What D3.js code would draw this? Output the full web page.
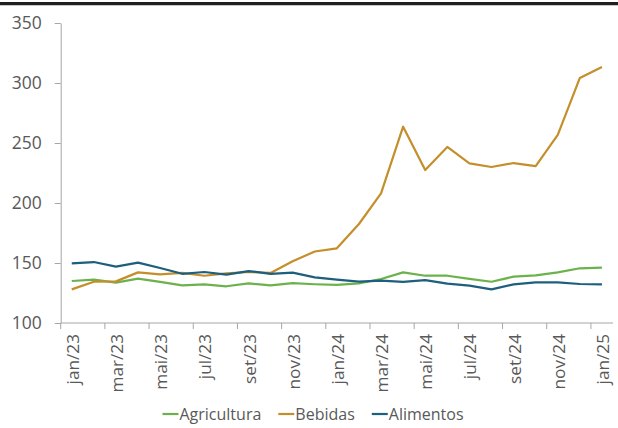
<!DOCTYPE html>
<html>
<head>
<meta charset="utf-8">
<script src="https://cdn.jsdelivr.net/npm/d3@7"></script>
<style>
	body { margin: 0; background: white; }
	svg text { font-family: 'Open Sans', sans-serif; fill: #595959; }
</style>
</head>
<body>
<div id="chart"></div>
<script>
const months = [
	'jan/23', 'fev/23', 'mar/23', 'abr/23', 'mai/23', 'jun/23', 'jul/23', 'ago/23', 'set/23', 'out/23', 'nov/23', 'dez/23',
	'jan/24', 'fev/24', 'mar/24', 'abr/24', 'mai/24', 'jun/24', 'jul/24', 'ago/24', 'set/24', 'out/24', 'nov/24', 'dez/24',
	'jan/25'
];
const agricultura = [135, 136.1, 133.6, 137, 134.2, 131.4, 132.2, 130.6, 133, 131.4, 133.3, 132.3,
	131.7, 133, 136.7, 142.2, 139.4, 139.4, 136.7, 134.4, 138.6, 139.7, 142.2, 145.6, 146.1];
const bebidas = [128, 134.4, 134.7, 142.2, 140.6, 141.7, 139.4, 141.4, 142.5, 141.7, 151.4, 159.6,
	162.2, 182.5, 208, 263.6, 227.5, 246.7, 233, 230, 233.3, 230.8, 256.7, 304.2, 313.3];
const alimentos = [149.7, 150.8, 147, 150.3, 145.8, 141, 142.5, 140.3, 143.3, 141, 142, 138,
	136.1, 134.4, 135.3, 134.2, 135.8, 132.8, 131.1, 128, 132.2, 133.9, 133.9, 132.5, 132.2];
const yTicks = [100, 150, 200, 250, 300, 350];

const series = [
	{ name: 'Agricultura', values: agricultura, color: '#6cb24c' },
	{ name: 'Bebidas', values: bebidas, color: '#c48f2b' },
	{ name: 'Alimentos', values: alimentos, color: '#1d5f7c' }
];

const width = 618, height = 428;
const margin = { top: 23, right: 5, bottom: 105, left: 60.7 };

const svg = d3.select('#chart').append('svg')
	.attr('width', width)
	.attr('height', height);

// thick rule across the top
svg.append('line')
	.attr('x1', 0).attr('x2', width)
	.attr('y1', 3.7).attr('y2', 3.7)
	.attr('stroke', '#1f1f1f')
	.attr('stroke-width', 3.2);

const x = d3.scaleBand()
	.domain(months)
	.range([margin.left, width - margin.right])
	.padding(0);

const y = d3.scaleLinear()
	.domain([100, 350])
	.range([height - margin.bottom, margin.top]);

// y axis
const yAxis = svg.append('g')
	.attr('transform', `translate(${margin.left},0)`)
	.call(d3.axisLeft(y).tickValues(yTicks).tickSize(6).tickPadding(13).tickSizeOuter(0));
yAxis.select('.domain').attr('stroke', '#a6a6a6');
yAxis.selectAll('.tick line').attr('stroke', '#a6a6a6');
yAxis.selectAll('.tick text')
	.style('font-size', '17.5px')
	.attr('fill', '#595959');

// x axis: line and tick marks on every second month boundary
const xAxis = svg.append('g')
	.attr('transform', `translate(0,${height - margin.bottom})`);
xAxis.append('line')
	.attr('x1', x.range()[0]).attr('x2', x.range()[1])
	.attr('stroke', '#a6a6a6');
const labelled = months.filter((d, i) => i % 2 === 0);
xAxis.selectAll('.tickmark')
	.data(labelled)
	.enter()
	.append('line')
	.attr('class', 'tickmark')
	.attr('x1', (d) => x(d)).attr('x2', (d) => x(d))
	.attr('y1', 0).attr('y2', 6)
	.attr('stroke', '#a6a6a6');
xAxis.selectAll('.label')
	.data(labelled)
	.enter()
	.append('text')
	.attr('class', 'label')
	.attr('transform', (d) => `translate(${x(d) + x.bandwidth() / 2 + 1},11) rotate(-90)`)
	.attr('text-anchor', 'end')
	.attr('dy', '0.35em')
	.style('font-size', '17.2px')
	.text((d) => d);

// lines
const line = d3.line()
	.x((d, i) => x(months[i]) + x.bandwidth() / 2)
	.y((d) => y(d));

svg.selectAll('.series')
	.data(series)
	.enter()
	.append('path')
	.attr('class', 'series')
	.attr('fill', 'none')
	.attr('stroke', (d) => d.color)
	.attr('stroke-width', 2.2)
	.attr('stroke-linejoin', 'round')
	.attr('d', (d) => line(d.values));

// legend: items laid out one after another, centred as a block
const legend = svg.append('g').attr('class', 'legend');
const items = legend.selectAll('.item')
	.data(series)
	.enter()
	.append('g')
	.attr('class', 'item');
items.append('line')
	.attr('x1', 0).attr('x2', 16)
	.attr('stroke', (d) => d.color)
	.attr('stroke-width', 2.2);
items.append('text')
	.attr('x', 17)
	.attr('dy', '0.35em')
	.style('font-size', '16px')
	.text((d) => d.name);
let cursor = 0;
items.each(function () {
	d3.select(this).attr('transform', `translate(${cursor},0)`);
	cursor += 17 + d3.select(this).select('text').node().getComputedTextLength() + 17;
});
const legendWidth = cursor - 17;
legend.attr('transform', `translate(${313 - legendWidth / 2},414)`);
</script>
</body>
</html>
